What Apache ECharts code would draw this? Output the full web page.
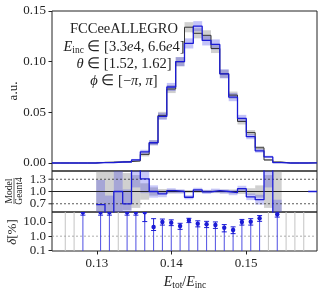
<!DOCTYPE html>
<html><head><meta charset="utf-8">
<script src="https://cdn.jsdelivr.net/npm/echarts@6/dist/echarts.min.js"></script>
<style>html,body{margin:0;padding:0;background:#fff}#c{width:324px;height:292px}</style>
</head><body><div id="c"></div>
<script>
// ---- data ----
const binEdges = [0.12400,0.12518,0.12637,0.12755,0.12873,0.12992,0.13110,0.13228,0.13347,0.13465,
  0.13583,0.13702,0.13820,0.13938,0.14057,0.14175,0.14293,0.14412,0.14530,0.14648,
  0.14767,0.14885,0.15003,0.15122,0.15240,0.15358,0.15477,0.15595,0.15713,0.15832,0.15950];
const model = [0,0,0,0,0, 0.0004,0.0003,0.001,0.001,0.003, 0.011,0.020,0.046,0.075,0.100,
  0.118,0.135,0.121,0.117,0.088, 0.065,0.044,0.026,0.012,0.006, 0.0003,0,0,0,0.0001];
const modelErr = [0,0,0,0,0, 0.0004,0.0004,0.0006,0.0006,0.001, 0.002,0.0025,0.0035,0.004,0.0045,
  0.005,0.005,0.005,0.005,0.0045, 0.004,0.0035,0.0025,0.0018,0.0012, 0.0003,0,0,0,0.0001];
const geant4 = [0,0,0,0,0, 0.0006,0.0008,0.001,0.0014,0.002, 0.0085,0.020,0.047,0.073,0.100,
  0.134,0.128,0.126,0.113,0.088, 0.067,0.041,0.030,0.015,0.003, 0.001,0,0,0,0.0001];
const geant4Err = [0,0,0,0,0, 0.0005,0.0005,0.0006,0.0007,0.0009, 0.002,0.0025,0.0035,0.004,0.0045,
  0.005,0.005,0.005,0.0045,0.004, 0.0035,0.003,0.0025,0.0018,0.0009, 0.0005,0,0,0,0.0001];
const ratio = [null,null,null,null,null, 0.68,0.3,1.0,0.7,1.7, 1.31,1.0,0.94,1.02,1.0,
  0.86,1.04,0.99,1.02,1.0, 0.97,1.07,0.87,0.8,1.7, 0.3,null,null,null,1.0];
const ratioErr = [0,0,0,0,0, 0.6,0.6,0.5,0.35,0.6, 0.35,0.15,0.08,0.06,0.05,
  0.05,0.05,0.05,0.05,0.05, 0.06,0.07,0.08,0.12,0.6, 0.5,0,0,0,0];
const g4RelErr = [0,0,0,0,0, 0.7,0.7,0.55,0.45,0.4, 0.2,0.1,0.06,0.05,0.04,
  0.035,0.035,0.035,0.04,0.045, 0.05,0.06,0.08,0.15,0.4, 0.7,0,0,0,0];
const delta = [null,null,null,48,null, 48,48,null,48,48, 48,4.4,10,8.9,5.2,
  13,7.6,6.8,6.1,3.9, 2.7,10,10.5,18,null, 35,null,null,null,null];
const deltaLo = [null,null,null,30,null, 30,30,null,30,30, 10.6,2.5,6,5.5,3,
  9,4.5,4,3.5,2,1.5,6,6,11,null, 22,null,null,null,null];
const deltaHi = [null,null,null,80,null, 80,80,null,80,80, 80,17,16,14,8,
  18,12,11,10,6.5,4.5,15,17,28,null, 50,null,null,null,null];
// bins where only the (gray) reference stem is drawn over the full panel height
const deltaRefOnly = [0,1,1,0,0, 0,0,1,0,0, 0,0,0,0,0, 0,0,0,0,0, 0,0,0,0,1, 0,1,1,1,0];
const xTicks = [0.13, 0.14, 0.15];
const yTicksMain = [0, 0.05, 0.10, 0.15];
const yTicksRatio = [0.7, 1.0, 1.3];
const yTicksDelta = [0.1, 1, 10];

// ---- build ----
const X0 = binEdges[0], X1 = binEdges[binEdges.length - 1];
const FONT = 'Liberation Serif';
const BLUE = '#1b1bd6';
const centers = binEdges.slice(0, -1).map((e, i) => (e + binEdges[i + 1]) / 2);

function stairs(vals) {
  const d = [];
  vals.forEach((v, i) => {
    if (v === null) { d.push([binEdges[i], null]); return; }
    d.push([binEdges[i], v]); d.push([binEdges[i + 1], v]);
  });
  return d;
}
function boxSeries(vals, errs, xi, yi, color, z) {
  return {
    type: 'custom', xAxisIndex: xi, yAxisIndex: yi, clip: true, z: z, silent: true,
    data: vals.map((v, i) => [i, v, errs[i]]),
    renderItem: function (params, api) {
      const i = api.value(0), v = api.value(1), e = api.value(2);
      if (v === null || isNaN(v) || !(e > 0)) return null;
      const p0 = api.coord([binEdges[i], v + e]);
      const p1 = api.coord([binEdges[i + 1], v - e]);
      return { type: 'rect', shape: { x: p0[0], y: p0[1], width: p1[0] - p0[0], height: p1[1] - p0[1] },
        style: { fill: color } };
    }
  };
}
function hline(yi, xi, val, color, dash, w) {
  return {
    type: 'custom', xAxisIndex: xi, yAxisIndex: yi, clip: true, z: 3, silent: true,
    data: [[val]],
    renderItem: function (params, api) {
      const a = api.coord([X0, api.value(0)]), b = api.coord([X1, api.value(0)]);
      return { type: 'line', shape: { x1: a[0], y1: a[1], x2: b[0], y2: b[1] },
        style: { stroke: color, lineWidth: w, lineDash: dash } };
    }
  };
}
function tickLabels(xi, yi, vals, fmt) {
  return {
    type: 'custom', xAxisIndex: xi, yAxisIndex: yi, clip: false, z: 6, silent: true,
    data: vals.map(v => [v]),
    renderItem: function (params, api) {
      const p = api.coord([X0, api.value(0)]);
      return { type: 'group', children: [
        { type: 'line', shape: { x1: p[0] - 3.5, y1: p[1], x2: p[0], y2: p[1] }, style: { stroke: '#222', lineWidth: 1 } },
        { type: 'text', x: p[0] - 6, y: p[1], style: { text: fmt(api.value(0)), font: '13px "Liberation Serif"', fill: '#222', align: 'right', verticalAlign: 'middle' } }
      ] };
    }
  };
}

const axisFont = { fontFamily: FONT, fontSize: 13, color: '#222' };
const xAxisBase = (idx, labels) => ({
  type: 'value', gridIndex: idx, min: X0, max: X1,
  axisLine: { show: false }, splitLine: { show: false },
  axisTick: labels ? { show: true, customValues: xTicks, length: 3.5, lineStyle: { color: '#222' } } : { show: false },
  axisLabel: labels ? Object.assign({ show: true, customValues: xTicks, margin: 6, formatter: v => v.toFixed(2) }, axisFont) : { show: false }
});

const option = {
  animation: false,
  backgroundColor: '#fff',
  grid: [
    { left: 52, top: 11, width: 265, height: 160, show: true, borderColor: '#222', borderWidth: 1, backgroundColor: 'transparent' },
    { left: 52, top: 171, width: 265, height: 41, show: true, borderColor: '#222', borderWidth: 1, backgroundColor: 'transparent' },
    { left: 52, top: 212, width: 265, height: 39, show: true, borderColor: '#222', borderWidth: 1, backgroundColor: 'transparent' }
  ],
  xAxis: [xAxisBase(0, false), xAxisBase(1, false), xAxisBase(2, true)],
  yAxis: [
    { type: 'value', gridIndex: 0, min: -0.0079, max: 0.15, splitLine: { show: false }, axisLine: { show: false },
      axisTick: { customValues: yTicksMain, length: 3.5, lineStyle: { color: '#222' } },
      axisLabel: Object.assign({ customValues: yTicksMain, margin: 6, formatter: v => v.toFixed(2) }, axisFont) },
    { type: 'value', gridIndex: 1, min: 0.5, max: 1.5, splitLine: { show: false }, axisLine: { show: false },
      axisTick: { show: false }, axisLabel: { show: false } },
    { type: 'log', gridIndex: 2, min: 0.09, max: 50, logBase: 10, splitLine: { show: false }, axisLine: { show: false },
      axisTick: { customValues: yTicksDelta, length: 3.5, lineStyle: { color: '#222' } },
      axisLabel: Object.assign({ customValues: yTicksDelta, margin: 6, formatter: v => (+v).toFixed(1) }, axisFont) }
  ],
  series: [
    boxSeries(geant4, geant4Err, 0, 0, 'rgba(120,120,120,0.35)', 1),
    boxSeries(model, modelErr, 0, 0, 'rgba(40,40,230,0.28)', 2),
    { type: 'line', xAxisIndex: 0, yAxisIndex: 0, data: stairs(geant4), symbol: 'none', z: 4,
      lineStyle: { color: '#333', width: 1 }, silent: true },
    { type: 'line', xAxisIndex: 0, yAxisIndex: 0, data: stairs(model), symbol: 'none', z: 5,
      lineStyle: { color: BLUE, width: 1.3 }, silent: true },
    // ratio panel
    {
      type: 'custom', xAxisIndex: 1, yAxisIndex: 1, clip: true, z: 1, silent: true,
      data: g4RelErr.map((e, i) => [i, e]),
      renderItem: function (params, api) {
        const i = api.value(0), e = api.value(1);
        if (!(e > 0)) return null;
        const p0 = api.coord([binEdges[i], 1 + e]), p1 = api.coord([binEdges[i + 1], 1 - e]);
        return { type: 'rect', shape: { x: p0[0], y: p0[1], width: p1[0] - p0[0], height: p1[1] - p0[1] }, style: { fill: 'rgba(120,120,120,0.35)' } };
      }
    },
    boxSeries(ratio, ratioErr, 1, 1, 'rgba(40,40,230,0.25)', 2),
    hline(1, 1, 1.3, '#333', [2, 2], 0.8),
    hline(1, 1, 0.7, '#333', [2, 2], 0.8),
    hline(1, 1, 1.0, '#222', null, 1),
    tickLabels(1, 1, yTicksRatio, v => v.toFixed(1)),
    { type: 'line', xAxisIndex: 1, yAxisIndex: 1, data: stairs(ratio), symbol: 'none', z: 5, clip: true,
      lineStyle: { color: BLUE, width: 1.3 }, silent: true },
    // delta panel
    hline(2, 2, 1, '#999', [2, 2], 0.8),
    {
      type: 'custom', xAxisIndex: 2, yAxisIndex: 2, clip: true, z: 2, silent: true,
      data: deltaRefOnly.map((f, i) => [centers[i], f]),
      renderItem: function (params, api) {
        if (!api.value(1)) return null;
        const a = api.coord([api.value(0), 0.09]), b = api.coord([api.value(0), 50]);
        return { type: 'line', shape: { x1: a[0], y1: a[1], x2: b[0], y2: b[1] }, style: { stroke: '#c4c4c4', lineWidth: 1 } };
      }
    },
    {
      type: 'custom', xAxisIndex: 2, yAxisIndex: 2, clip: true, z: 5, silent: true,
      data: delta.map((d, i) => [centers[i], d === null ? NaN : d, deltaLo[i], deltaHi[i]]),
      renderItem: function (params, api) {
        const x = api.value(0), d = api.value(1), lo = api.value(2), hi = api.value(3);
        if (isNaN(d)) return null;
        const bot = api.coord([x, 0.09]);
        const pt = api.coord([x, d]);
        const pl = api.coord([x, lo]), ph = api.coord([x, Math.min(hi, 60)]);
        const st = { stroke: BLUE, lineWidth: 1 };
        return { type: 'group', children: [
          { type: 'line', shape: { x1: bot[0], y1: bot[1], x2: pt[0], y2: pt[1] }, style: { stroke: '#3b3be0', lineWidth: 0.9 } },
          { type: 'line', shape: { x1: pl[0], y1: pl[1], x2: ph[0], y2: ph[1] }, style: st },
          { type: 'line', shape: { x1: ph[0] - 2.5, y1: ph[1], x2: ph[0] + 2.5, y2: ph[1] }, style: st },
          { type: 'line', shape: { x1: pl[0] - 2.5, y1: pl[1], x2: pl[0] + 2.5, y2: pl[1] }, style: st },
          { type: 'circle', shape: { cx: pt[0], cy: pt[1], r: 2.2 }, style: { fill: BLUE } }
        ] };
      }
    }
  ],
  graphic: [
    { type: 'text', x: 124, y: 29, style: { text: 'FCCeeALLEGRO', font: '14.5px "Liberation Serif"', fill: '#222', align: 'center', verticalAlign: 'middle' } },
    { type: 'text', x: 124, y: 47, style: {
        text: '{i|E}{s|inc}{n| ∈ [3.3}{i|e}{n|4, 6.6}{i|e}{n|4]}', align: 'center', verticalAlign: 'middle',
        rich: { n: { font: '14.5px "Liberation Serif"', fill: '#222', lineHeight: 16 },
                i: { font: 'italic 14.5px "Liberation Serif"', fill: '#222', lineHeight: 16 },
                s: { font: '9.5px "Liberation Serif"', fill: '#222', lineHeight: 16, padding: [7, 0, 0, 0] } } } },
    { type: 'text', x: 124, y: 64, style: {
        text: '{i|θ}{n| ∈ [1.52, 1.62]}', align: 'center', verticalAlign: 'middle',
        rich: { n: { font: '14.5px "Liberation Serif"', fill: '#222' }, i: { font: 'italic 14.5px "Liberation Serif"', fill: '#222' } } } },
    { type: 'text', x: 124, y: 81, style: {
        text: '{i|ϕ}{n| ∈ [−}{i|π}{n|, }{i|π}{n|]}', align: 'center', verticalAlign: 'middle',
        rich: { n: { font: '14.5px "Liberation Serif"', fill: '#222' }, i: { font: 'italic 14.5px "Liberation Serif"', fill: '#222' } } } },
    { type: 'text', x: 14, y: 91, rotation: Math.PI / 2, style: { text: 'a.u.', font: '13px "Liberation Serif"', fill: '#222', align: 'center', verticalAlign: 'middle' } },
    { type: 'text', x: 9, y: 191, rotation: Math.PI / 2, style: { text: 'Model', font: '9.5px "Liberation Serif"', fill: '#222', align: 'center', verticalAlign: 'middle' } },
    { type: 'line', shape: { x1: 14, y1: 178, x2: 14, y2: 204 }, style: { stroke: '#222', lineWidth: 0.7 } },
    { type: 'text', x: 19.5, y: 191, rotation: Math.PI / 2, style: { text: 'Geant4', font: '9.5px "Liberation Serif"', fill: '#222', align: 'center', verticalAlign: 'middle' } },
    { type: 'text', x: 13, y: 232, rotation: Math.PI / 2, style: {
        text: '{i|δ}{n|[%]}', align: 'center', verticalAlign: 'middle',
        rich: { n: { font: '13px "Liberation Serif"', fill: '#222' }, i: { font: 'italic 13px "Liberation Serif"', fill: '#222' } } } },
    { type: 'text', x: 185, y: 282, style: {
        text: '{i|E}{s|tot}{n|/}{i|E}{s|inc}', align: 'center', verticalAlign: 'middle',
        rich: { n: { font: '14px "Liberation Serif"', fill: '#222', lineHeight: 16 },
                i: { font: 'italic 14px "Liberation Serif"', fill: '#222', lineHeight: 16 },
                s: { font: '9.5px "Liberation Serif"', fill: '#222', lineHeight: 16, padding: [7, 0, 0, 0] } } } }
  ]
};
const chart = echarts.init(document.getElementById('c'), null, { renderer: 'canvas', width: 324, height: 292 });
chart.setOption(option);
</script></body></html>
